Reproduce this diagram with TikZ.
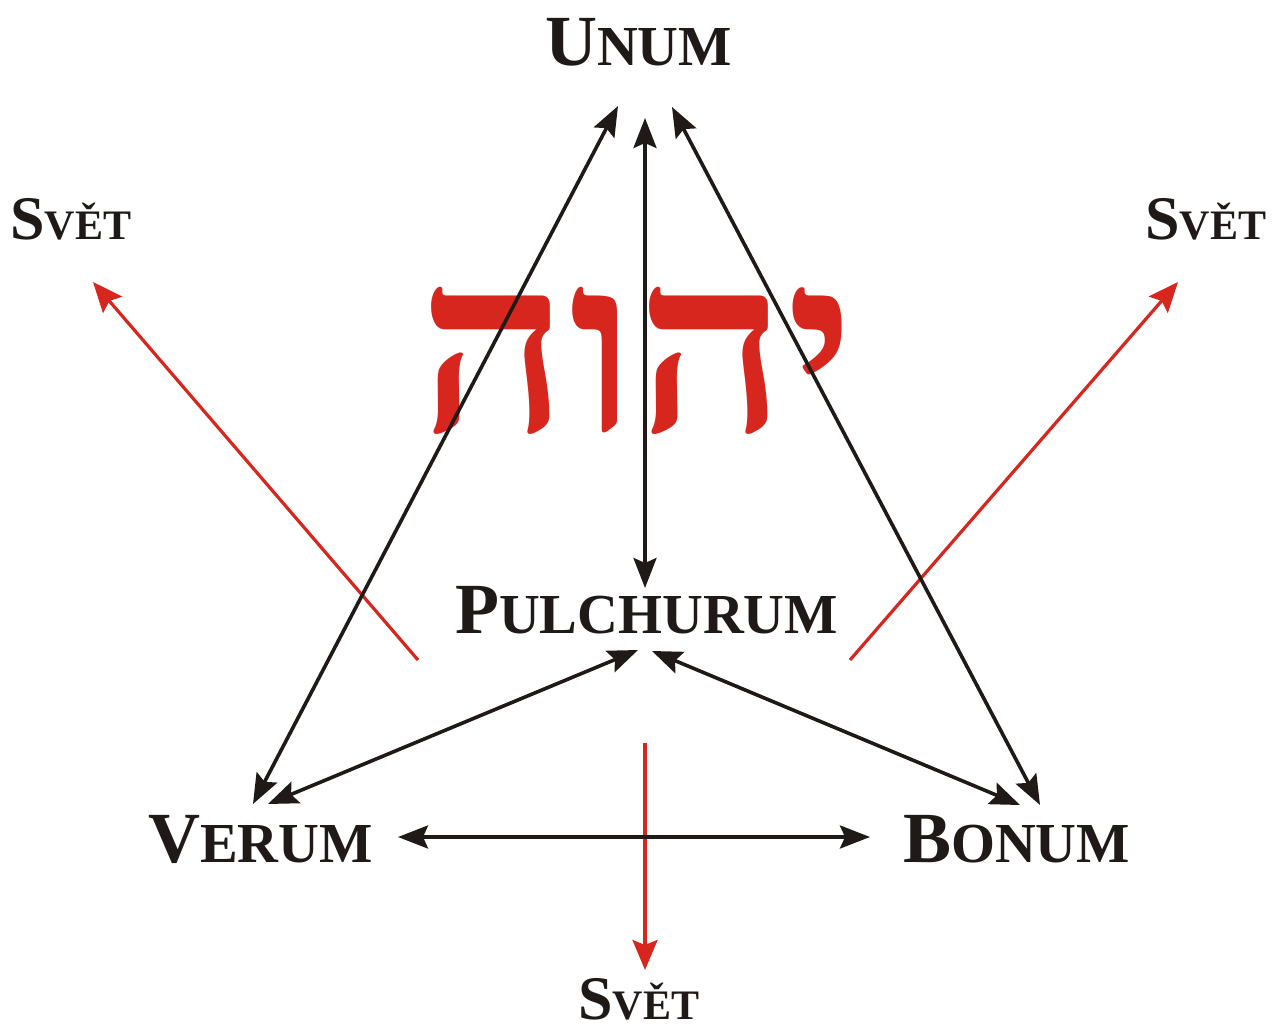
\documentclass[tikz,border=0pt]{standalone}
\usepackage{fontspec}
\setmainfont{Liberation Serif}
\newfontfamily\hebfont[Script=Hebrew]{Liberation Serif}
\TeXXeTstate=1
\usetikzlibrary{arrows.meta}
\definecolor{ink}{HTML}{1F1A17}
\definecolor{redink}{HTML}{D7261E}
\newcommand\bigsc[2]{\bfseries{\fontsize{72}{72}\selectfont #1}{\fontsize{56.5}{56.5}\selectfont #2}}
\newcommand\smallsc[2]{\bfseries{\fontsize{62}{62}\selectfont #1}{\fontsize{42}{42}\selectfont #2}}
\tikzset{
  lbl/.style={anchor=base west, inner sep=0pt, text=ink},
  blk/.style={draw=ink, line width=3.6pt, {Stealth[length=30pt,width=23pt,inset=5pt]}-{Stealth[length=30pt,width=23pt,inset=5pt]}},
  red/.style={draw=redink, line width=3.2pt, -{Stealth[length=30pt,width=25pt,inset=5pt]}},
}
\begin{document}
\begin{tikzpicture}[x=1pt,y=-1pt]
\useasboundingbox (0,0) rectangle (1277,1032);
% Hebrew name
\node[inner sep=0pt, text=redink, xscale=1.07] (yhwh) at (637,361) {\hebfont\bfseries\fontsize{245}{245}\selectfont\beginR יהוה\endR};
% labels
\node[lbl] (unum) at (545,66) {\bigsc{U}{NUM}};
\node[lbl] (pulch) at (455,633) {\bigsc{P}{ULCHURUM}};
\node[lbl] (verum) at (148,862) {\bigsc{V}{ERUM}};
\node[lbl] (bonum) at (903,862) {\bigsc{B}{ONUM}};
\node[lbl] (svetL) at (10,240) {\smallsc{S}{VĚT}};
\node[lbl] (svetR) at (1145,240) {\smallsc{S}{VĚT}};
\node[lbl] (svetB) at (578,1019) {\smallsc{S}{VĚT}};
% connector end points
\coordinate (uL) at (618,106);
\coordinate (uC) at (645,118);
\coordinate (uR) at (672,107);
\coordinate (vU) at (253,804);
\coordinate (vP) at (268,804);
\coordinate (vB) at (398,837);
\coordinate (bU) at (1040,805);
\coordinate (bP) at (1020,805);
\coordinate (bV) at (870,837);
\coordinate (pU) at (645,588);
\coordinate (pV) at (638,650);
\coordinate (pB) at (652,651);
\coordinate (rLs) at (418,660);
\coordinate (rLe) at (93,282);
\coordinate (rRs) at (850,660);
\coordinate (rRe) at (1178,282);
\coordinate (rBs) at (645,743);
\coordinate (rBe) at (645,970);
% red arrows
\draw[red] (rLs) -- (rLe);
\draw[red] (rRs) -- (rRe);
\draw[red] (rBs) -- (rBe);
% black arrows
\draw[blk] (vU) -- (uL);
\draw[blk] (pU) -- (uC);
\draw[blk] (bU) -- (uR);
\draw[blk] (vP) -- (pV);
\draw[blk] (bP) -- (pB);
\draw[blk] (vB) -- (bV);
\end{tikzpicture}
\end{document}
